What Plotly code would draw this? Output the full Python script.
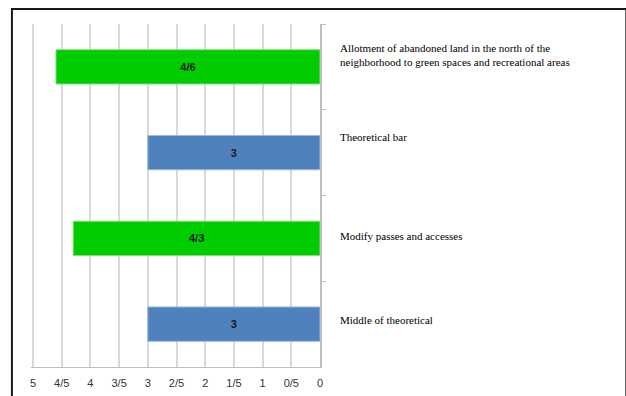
import plotly.graph_objects as go

categories = [
    "Allotment of abandoned land in the north of the<br>neighborhood to green spaces and recreational areas",
    "Theoretical bar",
    "Modify passes and accesses",
    "Middle of theoretical",
]
values = [4.6, 3, 4.3, 3]
value_labels = ["4/6", "3", "4/3", "3"]
bar_colors = ["#00CC00", "#4F81BD", "#00CC00", "#4F81BD"]
border_colors = ["#7FE07F", "#9DB8DC", "#7FE07F", "#9DB8DC"]
tick_vals = [5, 4.5, 4, 3.5, 3, 2.5, 2, 1.5, 1, 0.5, 0]
tick_text = ["5", "4/5", "4", "3/5", "3", "2/5", "2", "1/5", "1", "0/5", "0"]
label_shift = [12, 16, 2, 4]

ykeys = ["c1", "c2", "c3", "c4"]

fig = go.Figure()
fig.add_trace(go.Bar(
    y=ykeys, x=values, orientation="h",
    marker=dict(color=bar_colors, line=dict(color=border_colors, width=1)),
    text=value_labels, textposition="inside", insidetextanchor="middle",
    textfont=dict(family="Liberation Sans", size=11, color="#1a1a1a", weight="bold"),
    textangle=0,
    width=0.4,
    showlegend=False,
))

annotations = []
for k, lab, sh in zip(ykeys, categories, label_shift):
    annotations.append(dict(
        xref="paper", yref="y", x=1.062, y=k, yshift=sh,
        text=lab, showarrow=False, xanchor="left", yanchor="middle", align="left",
        font=dict(family="Liberation Serif", size=11, color="#000000"),
    ))

fig.update_layout(
    width=626, height=396,
    margin=dict(l=31, r=306, t=24, b=29),
    paper_bgcolor="white", plot_bgcolor="white",
    annotations=annotations,
    xaxis=dict(
        range=[5.035, 0], tickvals=tick_vals, ticktext=tick_text,
        showgrid=True, gridcolor="#D9D9D9", gridwidth=1.5,
        showline=True, linecolor="#BFBFBF", linewidth=1,
        zeroline=False, ticks="", ticklen=0, ticklabelstandoff=6,
        automargin=False,
        tickfont=dict(family="Liberation Sans", size=11, color="#333333"),
        fixedrange=True,
    ),
    yaxis=dict(
        type="category", categoryorder="array", categoryarray=ykeys,
        autorange="reversed", side="right", automargin=False,
        showticklabels=False, showgrid=False, zeroline=False,
        showline=True, linecolor="#BFBFBF", linewidth=1.5,
        ticks="outside", ticklen=4, tickcolor="#BFBFBF", tickson="boundaries",
    ),
    shapes=[dict(
        type="rect", xref="paper", yref="paper",
        x0=-0.066, x1=2.06, y0=-0.15, y1=1.044,
        line=dict(color="#1a1a1a", width=2),
    )],
)

fig.write_html("out.html")
